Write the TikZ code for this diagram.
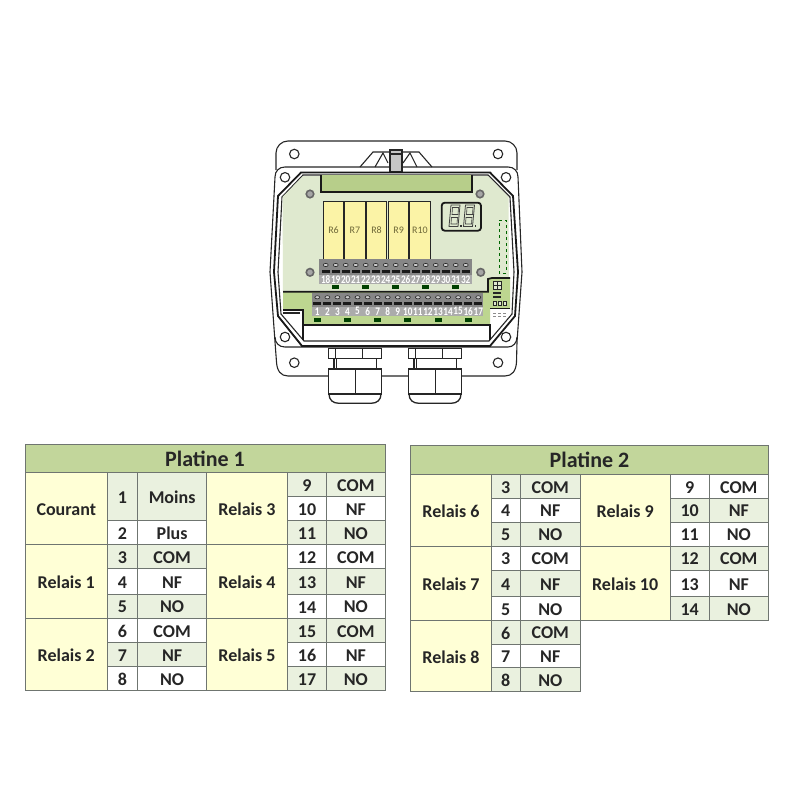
\documentclass[tikz,border=0pt]{standalone}
\usepackage{fontspec}
\usetikzlibrary{shapes.geometric}
\setmainfont{Carlito}
\definecolor{titlegreen}{HTML}{C2D69B}
\definecolor{cellyellow}{HTML}{FFFFD6}
\definecolor{cellgreen}{HTML}{EAF1DF}
\definecolor{gridgray}{HTML}{6F7570}
\definecolor{boardlight}{HTML}{DFE9CF}
\definecolor{boardgreen}{HTML}{BDD690}
\definecolor{barpanel}{HTML}{B7CE8A}
\definecolor{relayyellow}{HTML}{FBF3A6}
\definecolor{relaytext}{HTML}{6E6838}
\definecolor{blockgray}{HTML}{868686}
\definecolor{numgray}{HTML}{ABABAB}
% one table cell: name, x0, y0, x1, y1, fill, text
\newcommand{\tcell}[7]{\draw[cell,fill=#6] (#2,#3) rectangle node[celltext] (#1) {#7} (#4,#5);}
\begin{document}
\begin{tikzpicture}[x=1pt,y=-1pt]
\tikzstyle{cell} = [draw=gridgray, line width=0.8pt]
\tikzstyle{celltext} = [font=\bfseries\fontsize{18}{18}\selectfont, text=black!85, inner sep=0pt, yshift=-1pt]
\tikzstyle{titletext} = [font=\bfseries\fontsize{22}{22}\selectfont, text=black!85, inner sep=0pt]
\tikzstyle{hull} = [draw=black!85, line width=1.1pt]
\tikzstyle{wall} = [draw=black!90, line width=1.8pt]
\tikzstyle{hole} = [draw=black!85, line width=1.1pt, fill=white, circle, inner sep=0pt, minimum size=9.5pt]
\tikzstyle{relay} = [draw=black!85, line width=1pt, fill=relayyellow, inner sep=0pt, text=relaytext, font=\fontsize{10}{10}\selectfont, anchor=north west, minimum height=57.5pt]
\tikzstyle{screw} = [draw=black!60, line width=1.6pt, fill=gray!70, circle, inner sep=0pt, minimum size=7.5pt]
\tikzstyle{termnum} = [text=white, font=\bfseries\fontsize{11.5}{11.5}\selectfont, xscale=0.8, inner sep=0pt]
\tikzstyle{termhole} = [draw=black!85, line width=0.6pt, fill=gray!40, ellipse, inner sep=0pt, minimum width=5pt, minimum height=3.2pt]
\tikzstyle{termbar} = [fill=black!90, inner sep=0pt, minimum width=8pt, minimum height=3pt]
\tikzstyle{termclip} = [fill=black!75!green, inner sep=0pt, minimum width=7pt, minimum height=4pt]
\useasboundingbox (0,0) rectangle (800,800);

% lid and flanges
\draw[hull, rounded corners=12pt] (276,170) -- (276,141) -- (517,141) -- (517,170);
\draw[hull, fill=white] (285,167) -- (508,167) .. controls (514,167) and (518,171) .. (518,177)
	-- (522,272) -- (517,342) -- (516.5,362) .. controls (516,371) and (512,376) .. (505,376)
	-- (288,376) .. controls (281,376) and (277,371) .. (276.5,362) -- (275,342) -- (270,272) -- (275,177)
	.. controls (275,171) and (279,167) .. (285,167) -- cycle;
\draw[hull] (275,337) .. controls (275,343) and (279,347) .. (285,347) -- (508,347) .. controls (513,347) and (517,343) .. (517,337);

% latch
\draw[hull] (360,167) -- (373,152) -- (389,152);
\draw[hull] (375,167) -- (383,153) -- (388,163);
\draw[hull] (432,167) -- (419,152) -- (403,152);
\draw[hull] (417,167) -- (410,153) -- (403,163);
\draw[hull, fill=gray!45] (390,150) -- (402,150) -- (402,172) -- (390,172) -- cycle;
\draw[hull] (390,154) -- (402,154);
\fill[black] (386,171.5) rectangle (406,174.5);

% walls and board
\draw[wall, fill=white] (301,172.5) -- (490,172.5) -- (513,196) -- (518,272) -- (515,316) -- (490,346) -- (302,346) -- (278,316) -- (274,272) -- (278,196) -- cycle;
\draw[hull] (303,175) -- (488,175) -- (510,197) -- (514,272) -- (512,314) -- (489,341) -- (304,341) -- (281,314) -- (278,272) -- (282,197) -- cycle;
\fill[boardlight] (303,176) -- (488,176) -- (508.5,197) -- (509,278) -- (488,278) -- (488,291.7) -- (283,291.7) -- (282.5,197) -- cycle;
\fill[boardgreen] (283,292) -- (488,292) -- (488,278) -- (510,278) -- (510,308) -- (490,308) -- (490,325) -- (303,325) -- (303,310) -- (283,310) -- cycle;
\draw[wall] (283,291.7) -- (488,291.7) -- (488,279) -- (492,278) -- (510,278);
\draw[wall] (283,310) -- (303,310) -- (303,340);
\draw[hull] (283,313) -- (300,313);
\draw[wall] (303,325) -- (490,325) -- (490,340);
\draw[wall, fill=barpanel] (321,175) -- (321,192.3) -- (472,192.3) -- (472,175);

% ear and lid holes
\foreach \hx/\hy/\hname in {294.3/154/hA, 498/154/hB, 285/177.3/hC, 506/177.3/hD, 285/337/hE, 506/337/hF, 294.3/362.7/hG, 498/362.7/hH}
	\node[hole] (\hname) at (\hx,\hy) {};

% screws
\foreach \hx/\hy/\hname in {310/194/sA, 480/194/sB, 310/272.3/sC, 480.7/272.3/sD}
	\node[screw] (\hname) at (\hx,\hy) {};

% relays
\foreach \n/\rx/\rw in {6/322.7/20.6, 7/344/20.7, 8/366/20, 9/388/20.3, 10/409/21}
	\node[relay, minimum width=\rw pt] (r\n) at (\rx,201) {R\n};

% display
\draw[wall, line width=1.8pt, fill=boardlight, rounded corners=3pt] (441.7,202.7) rectangle (481,230.7);
\foreach \dx in {0,14.5} {
	\draw[draw=black!75, line width=0.8pt] (449+\dx,226.5) -- (451+\dx,205) -- (460+\dx,205) -- (458+\dx,226.5) -- cycle;
	\draw[draw=black!75, line width=0.6pt] (452+\dx,214.5) -- (452.5+\dx,207.5) -- (458.5+\dx,207.5) -- (458+\dx,214.5) -- cycle;
	\draw[draw=black!75, line width=0.6pt] (451+\dx,224) -- (451.5+\dx,217.5) -- (457.5+\dx,217.5) -- (457+\dx,224) -- cycle;
	\fill[black!80] (460+\dx,225) rectangle (461.5+\dx,226.5);
}

% dashed connector
\draw[draw=black!60!green, dashed, line width=0.9pt] (499.3,220.7) -- (506.7,220.7) -- (506.7,273) -- (499.3,273) -- cycle;

% upper terminals
\fill[blockgray] (319.3,259.3) rectangle (471.7,275);
\fill[numgray] (319.3,275) rectangle (471.7,284.3);
\foreach \n [count=\k from 0] in {18,...,32} {
	\pgfmathsetmacro{\tx}{325.7+10*\k}
	\node[termhole] (th\n) at (\tx,265) {};
	\node[termbar] (tb\n) at (\tx,271) {};
	\node[termnum] (t\n) at (\tx,279.5) {\n};
}
\foreach \cx [count=\k] in {335,365,395,425,455}
	\node[termclip] (ca\k) at (\cx,287.3) {};

% lower terminals
\fill[blockgray] (311.7,293.3) rectangle (482.7,307);
\fill[numgray] (311.7,307) rectangle (482.7,316);
\foreach \n in {1,...,17} {
	\pgfmathsetmacro{\tx}{317.3+10.06*(\n-1)}
	\node[termhole] (lh\n) at (\tx,297.3) {};
	\node[termbar] (lb\n) at (\tx,303.3) {};
	\node[termnum] (l\n) at (\tx,311.3) {\n};
}
\foreach \cx [count=\k] in {317.3,347.3,377.3,407.7,438,468.3}
	\node[termclip] (cb\k) at (\cx,319.5) {};

% small switch block
\foreach \sx in {493,497.5}
	\foreach \sy in {281,285.5}
		\draw[draw=black!85, line width=0.6pt, fill=boardlight] (\sx,\sy) rectangle +(3.8,3.8);
\foreach \sy in {292,296}
	\fill[black!85] (493,\sy) rectangle (501,\sy+2.2);
\foreach \sx in {493,498,503}
	\draw[draw=black!85, line width=0.6pt, fill=boardlight] (\sx,301.5) rectangle +(3.6,3.6);
\draw[wall, line width=1.2pt] (490,308.3) -- (510,308.3);
\foreach \sx in {493,498,503}
	\draw[draw=black!45, line width=0.6pt] (\sx,313) -- (\sx+3,313) (\sx,316) -- (\sx+3,316);

% cable glands
\foreach \gx in {0,80} {
	\begin{scope}[xshift=\gx pt]
	\draw[hull, line width=1.3pt, fill=white] (328.3,348.3) rectangle (381.7,358.3);
	\draw[hull] (335.7,348.3) -- (335.7,358.3) (362.7,348.3) -- (362.7,358.3);
	\draw[hull, line width=1.3pt, fill=white] (334,358.3) rectangle (376.7,369);
	\draw[hull] (336.5,358.3) -- (336.5,369);
	\draw[hull, line width=1.3pt, fill=white] (329,394) .. controls (329,400) and (333,403.3) .. (339,403.3) -- (371,403.3) .. controls (377,403.3) and (381,400) .. (381,394) -- cycle;
	\draw[hull, line width=1.3pt, fill=white] (328.3,369) rectangle (381.7,394);
	\draw[hull] (355.3,369) -- (355.3,394);
	\end{scope}
}

% table 1
\draw[cell,fill=titlegreen] (25,444.7) rectangle node[titletext] (ttA) {Platine 1} (385,472.7);
\tcell{cCo}{25}{472.7}{107.5}{544.3}{cellyellow}{Courant}
\tcell{cRa}{25}{544.3}{107.5}{618.3}{cellyellow}{Relais 1}
\tcell{cRb}{25}{618.3}{107.5}{690}{cellyellow}{Relais 2}
\tcell{cRc}{206.7}{472.7}{287.3}{544.3}{cellyellow}{Relais 3}
\tcell{cRd}{206.7}{544.3}{287.3}{618.3}{cellyellow}{Relais 4}
\tcell{cRe}{206.7}{618.3}{287.3}{690}{cellyellow}{Relais 5}
\foreach \ya/\yb/\n/\lab/\col in {472.7/520.3/1/Moins/cellgreen, 520.3/544.3/2/Plus/white, 544.3/568.7/3/COM/cellgreen, 568.7/594/4/NF/white, 594/618.3/5/NO/cellgreen, 618.3/642.3/6/COM/white, 642.3/666.7/7/NF/cellgreen, 666.7/690/8/NO/white} {
	\tcell{an\n}{107.5}{\ya}{137.5}{\yb}{\col}{\n}
	\tcell{al\n}{137.5}{\ya}{206.7}{\yb}{\col}{\lab}
}
\foreach \ya/\yb/\n/\lab/\col in {472.7/496.7/9/COM/cellgreen, 496.7/520.3/10/NF/white, 520.3/544.3/11/NO/cellgreen, 544.3/568.7/12/COM/white, 568.7/594/13/NF/cellgreen, 594/618.3/14/NO/white, 618.3/642.3/15/COM/cellgreen, 642.3/666.7/16/NF/white, 666.7/690/17/NO/cellgreen} {
	\tcell{an\n}{287.3}{\ya}{326.7}{\yb}{\col}{\n}
	\tcell{al\n}{326.7}{\ya}{385}{\yb}{\col}{\lab}
}

% table 2
\draw[cell,fill=titlegreen] (410.7,445.3) rectangle node[titletext] (ttB) {Platine 2} (768.3,474.3);
\tcell{dRf}{410.7}{474.3}{491.3}{546}{cellyellow}{Relais 6}
\tcell{dRg}{410.7}{546}{491.3}{620.3}{cellyellow}{Relais 7}
\tcell{dRh}{410.7}{620.3}{491.3}{691.3}{cellyellow}{Relais 8}
\tcell{dRi}{580.3}{474.3}{670}{546}{cellyellow}{Relais 9}
\tcell{dRj}{580.3}{546}{670}{620.3}{cellyellow}{Relais 10}
\foreach \ya/\yb/\n/\lab/\col [count=\k] in {474.3/498.3/3/COM/cellgreen, 498.3/522/4/NF/white, 522/546/5/NO/cellgreen, 546/570/3/COM/white, 570/596.7/4/NF/cellgreen, 596.7/620.3/5/NO/white, 620.3/644/6/COM/cellgreen, 644/667.7/7/NF/white, 667.7/691.3/8/NO/cellgreen} {
	\tcell{bn\k}{491.3}{\ya}{520.3}{\yb}{\col}{\n}
	\tcell{bl\k}{520.3}{\ya}{580.3}{\yb}{\col}{\lab}
}
\foreach \ya/\yb/\n/\lab/\col in {474.3/498.3/9/COM/white, 498.3/522/10/NF/cellgreen, 522/546/11/NO/white, 546/570/12/COM/cellgreen, 570/596.7/13/NF/white, 596.7/620.3/14/NO/cellgreen} {
	\tcell{bn\n}{670}{\ya}{709.3}{\yb}{\col}{\n}
	\tcell{bl\n}{709.3}{\ya}{768.3}{\yb}{\col}{\lab}
}
\end{tikzpicture}
\end{document}
